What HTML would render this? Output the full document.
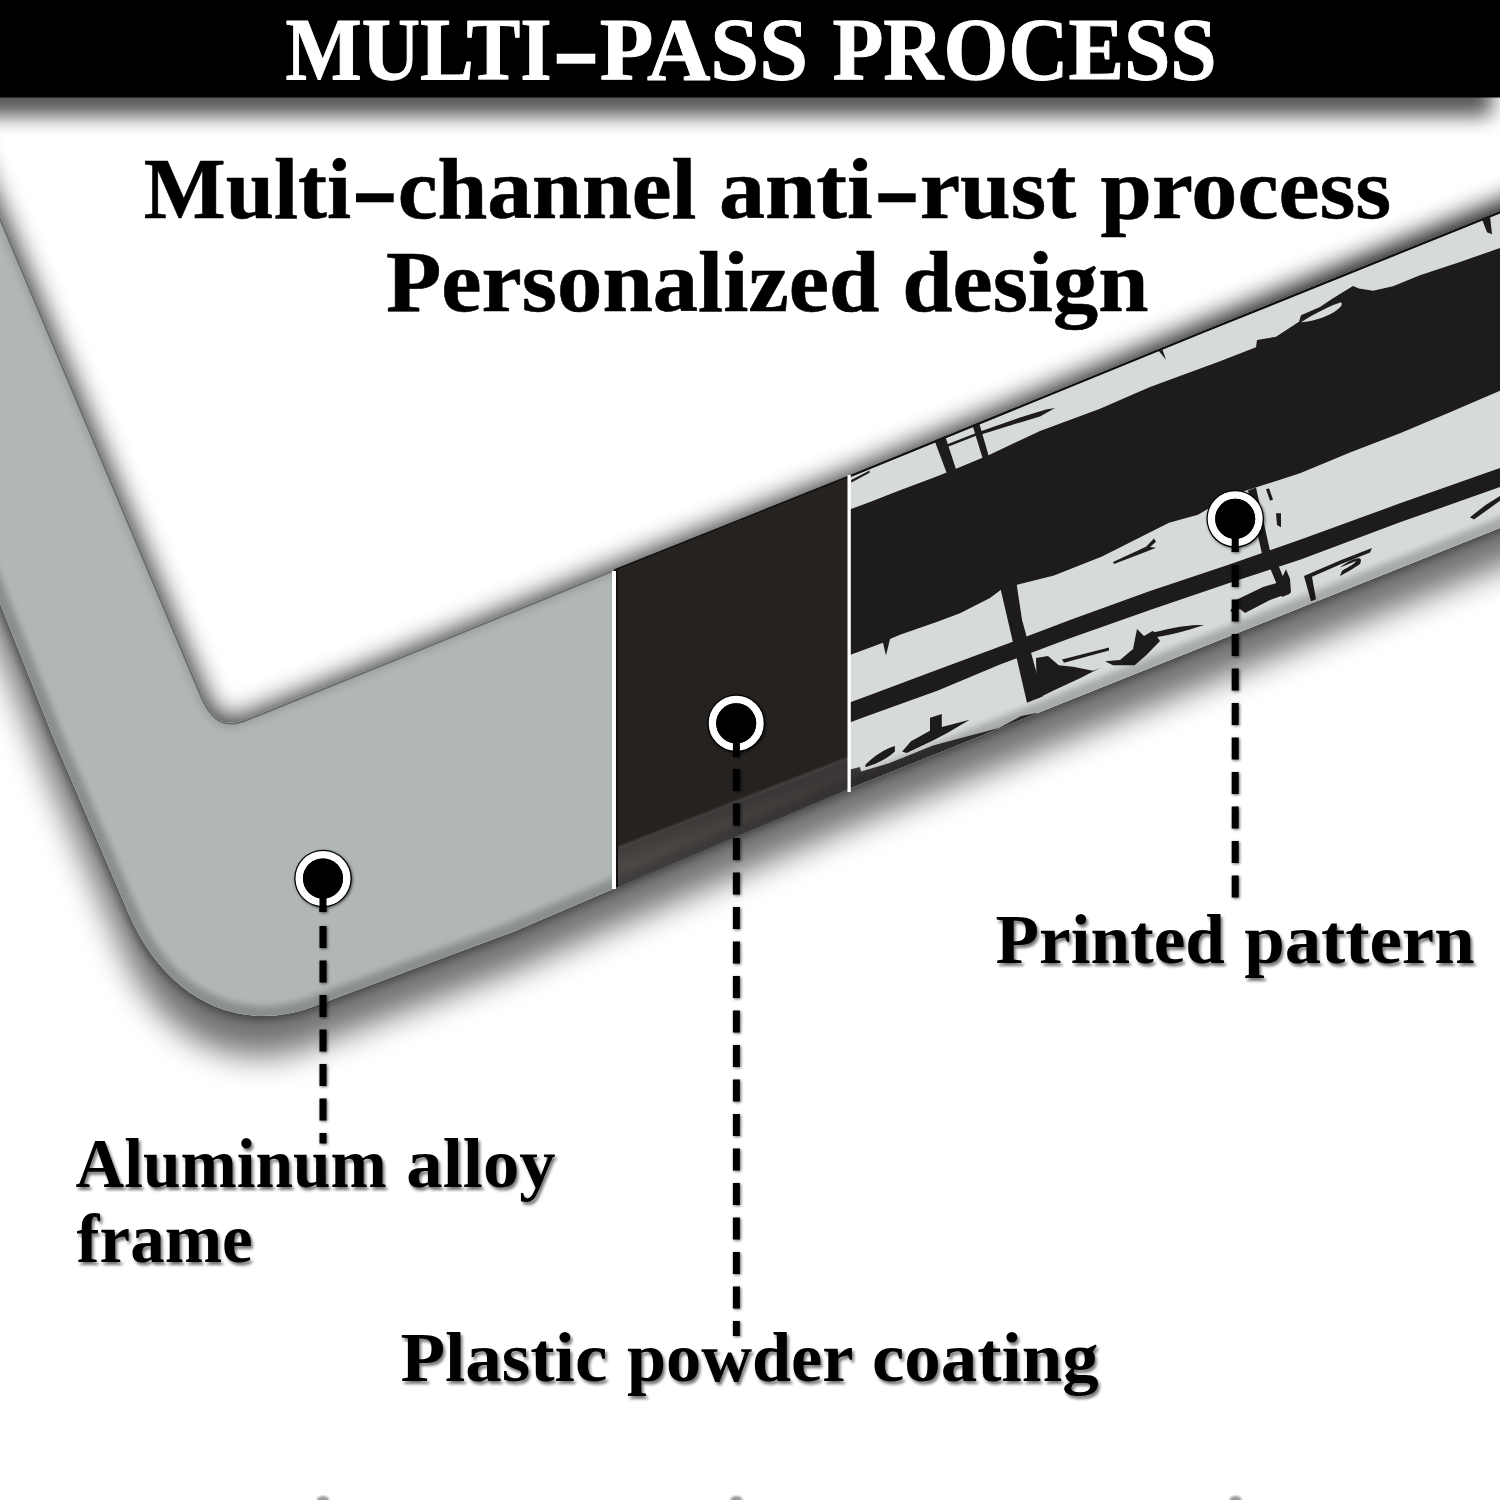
<!DOCTYPE html>
<html><head><meta charset="utf-8">
<style>
html,body{margin:0;padding:0;background:#fff;width:1500px;height:1500px;overflow:hidden}
svg{display:block}
text{font-family:"Liberation Serif",serif;font-weight:bold}
</style></head><body>
<svg width="1500" height="1500" viewBox="0 0 1500 1500">
<defs>
  <filter id="fshadowOut" x="-10%" y="-10%" width="120%" height="130%" color-interpolation-filters="sRGB">
    <feGaussianBlur in="SourceAlpha" stdDeviation="16" result="b1"/>
    <feOffset in="b1" dx="-4" dy="40" result="o1"/>
    <feComponentTransfer in="o1" result="s1"><feFuncA type="linear" slope="0.56"/></feComponentTransfer>
    <feGaussianBlur in="SourceAlpha" stdDeviation="5" result="b2"/>
    <feOffset in="b2" dx="-1" dy="3" result="o2"/>
    <feComponentTransfer in="o2" result="s2"><feFuncA type="linear" slope="0.45"/></feComponentTransfer>
    <feComposite in="s1" in2="s2" operator="arithmetic" k1="-1" k2="1" k3="1" k4="0"/>
  </filter>
  <filter id="fshadowIn" x="-10%" y="-10%" width="120%" height="130%" color-interpolation-filters="sRGB">
    <feMorphology in="SourceAlpha" operator="dilate" radius="3" result="d"/>
    <feGaussianBlur in="d" stdDeviation="13" result="b2"/>
    <feComponentTransfer in="b2"><feFuncA type="linear" slope="0.8"/></feComponentTransfer>
  </filter>
  <filter id="fshadowIn2" x="-10%" y="-10%" width="120%" height="130%" color-interpolation-filters="sRGB">
    <feMorphology in="SourceAlpha" operator="dilate" radius="4" result="d"/>
    <feGaussianBlur in="d" stdDeviation="14" result="b2"/>
    <feComponentTransfer in="b2"><feFuncA type="linear" slope="0.6"/></feComponentTransfer>
  </filter>
  <linearGradient id="rampX" gradientUnits="userSpaceOnUse" x1="850" y1="0" x2="1350" y2="0">
    <stop offset="0" stop-color="#000"/><stop offset="1" stop-color="#fff"/>
  </linearGradient>
  <mask id="maskRamp" maskUnits="userSpaceOnUse" x="-100" y="-100" width="1800" height="1800"><rect x="-100" y="-100" width="1800" height="1800" fill="url(#rampX)"/></mask>
  <clipPath id="clipOpen"><path d="M -60,73.5 L 200.8,693 C 212.8,721.5 224.4,728 247,718.8 L 400,657 L 610,571 L 850,475 L 1200,332 L 1500,211 L 1600,170 L 1600,-100 L -60,-100 Z"/></clipPath>
  <clipPath id="clipOut"><path d="M 1600,488 L 1500,528 L 1200,648 L 846,790 L 609,890.7 L 513,932 L 406.7,971.5 L 312,1007 C 236.9,1034.8 163.3,996.8 128,912 L 53,737 L 0,603 L -60,450 L -60,1600 L 1600,1600 Z"/></clipPath>
  <filter id="barshadow" x="-5%" y="-50%" width="110%" height="200%">
    <feGaussianBlur stdDeviation="10"/>
  </filter>
  <filter id="txtshadow" x="-5%" y="-30%" width="110%" height="160%" color-interpolation-filters="sRGB">
    <feGaussianBlur in="SourceAlpha" stdDeviation="1.6" result="b"/>
    <feOffset in="b" dx="2" dy="3" result="o"/>
    <feComponentTransfer in="o" result="s"><feFuncA type="linear" slope="0.55"/></feComponentTransfer>
    <feMerge><feMergeNode in="s"/><feMergeNode in="SourceGraphic"/></feMerge>
  </filter>
  <filter id="dotshadow" x="-50%" y="-50%" width="200%" height="200%" color-interpolation-filters="sRGB">
    <feGaussianBlur in="SourceAlpha" stdDeviation="1.5" result="b"/>
    <feOffset in="b" dx="0.5" dy="1" result="o"/>
    <feComponentTransfer in="o" result="s"><feFuncA type="linear" slope="0.6"/></feComponentTransfer>
    <feMerge><feMergeNode in="s"/><feMergeNode in="SourceGraphic"/></feMerge>
  </filter>
  <filter id="soft1"><feGaussianBlur stdDeviation="1.2"/></filter>
  <filter id="soft3"><feGaussianBlur stdDeviation="3"/></filter>
  <path id="frame" d="M -60,73.5 L 200.8,693 C 212.8,721.5 224.4,728 247,718.8 L 400,657 L 610,571 L 850,475 L 1200,332 L 1500,211 L 1600,170 L 1600,488 L 1500,528 L 1200,648 L 846,790 L 609,890.7 L 513,932 L 406.7,971.5 L 312,1007 C 236.9,1034.8 163.3,996.8 128,912 L 53,737 L 0,603 L -60,450 Z"/>
  <clipPath id="clipFrame"><use href="#frame"/></clipPath>
  <clipPath id="clipBlack"><rect x="614" y="0" width="236" height="1500"/></clipPath>
  <clipPath id="clipPrint"><rect x="849" y="0" width="700" height="1500"/></clipPath>
  <clipPath id="clipGreyOnly"><rect x="-100" y="0" width="712" height="1500"/></clipPath>
  <linearGradient id="bevelBlack" gradientUnits="userSpaceOnUse" x1="700" y1="815" x2="712" y2="855">
    <stop offset="0" stop-color="#3a3736"/><stop offset="1" stop-color="#54514f"/>
  </linearGradient>
</defs>

<!-- title bar shadow -->
<rect x="-60" y="30" width="1552" height="86" fill="#000" opacity="0.66" filter="url(#barshadow)"/>
<rect x="0" y="0" width="1500" height="97.5" fill="#000"/>

<!-- frame shadow -->
<g clip-path="url(#clipOut)"><use href="#frame" fill="#000" filter="url(#fshadowOut)"/></g>
<g clip-path="url(#clipOpen)"><use href="#frame" fill="#000" filter="url(#fshadowIn)"/></g>
<g clip-path="url(#clipOpen)" mask="url(#maskRamp)"><use href="#frame" fill="#000" filter="url(#fshadowIn2)"/></g>

<!-- frame body -->
<g clip-path="url(#clipFrame)">
  <rect x="-100" y="0" width="714" height="1500" fill="#b1b7b7"/>
  <g clip-path="url(#clipBlack)">
    <rect x="600" y="400" width="260" height="600" fill="#252220"/>
    <path d="M 600,854.8 L 860,753.4 L 860,1000 L 600,1000 Z" fill="url(#bevelBlack)"/>
    <path d="M 600,854.8 L 860,753.4" stroke="#4a4746" stroke-width="2" filter="url(#soft1)"/>
  </g>
  <g clip-path="url(#clipPrint)">
    <rect x="840" y="150" width="700" height="700" fill="#d7dadb"/>
    <g transform="matrix(1,-0.403,0,1,850,475)" fill="#1e1b1b">
      <!-- main black band -->
      <path d="M -10,34 L 20,35 L 50,35.5 L 86,36.5 L 106,36.5 L 138,36 L 190,32.5 L 250,34.5 L 300,33 L 370,35.4 L 406,35.9 L 407,29 L 426,33.4 L 449,27.8 L 451,22 L 470,21.5 L 483,18 L 503,13.8 L 509,18.7 L 523,26.6 L 543,30 L 570,30 L 610,32.8 L 650,35 L 710,35 L 710,178 L 650,177.7 L 600,179 L 550,180 L 500,179 L 450,179.7 L 380,174 L 348,180 L 319,176.4 L 313,177 L 252,183 L 204,182.8 L 166,177 L 153,175 L 140,179.4 L 110,182.5 L 88,182 L 50,180 L 40,180 L 36,195 L 33,181 L 0,180 L -10,180 Z"/>
      <!-- hole in band near top -->
      <path d="M 451,29 C 465,25.5 480,24 491,25 C 494,29 488,32.5 475,33 C 465,33 457,31 451,29 Z" fill="#d7dadb"/>
      <!-- thin stripe -->
      <path d="M -10,227 L 20,228 L 88,230 L 150,232 L 220,233.7 L 300,237 L 380,242.5 L 450,246 L 550,250 L 650,255 L 710,257 L 710,276 L 650,274 L 550,269 L 450,266 L 380,261 L 300,256 L 220,252 L 150,250 L 88,251 L 20,248 L -10,247 Z"/>
      <!-- bottom dark band at left -->
      <path fill="#3a3636" d="M -10,293 L 10,296 L 11,301 L 39,304 L 83,304 L 127,310 L 149,313 L 171,310 L 186,313 L 200,330 L -10,330 Z"/>
      <path d="M 15.5,295.9 C 25,290 35,288 44.9,289 L 44.9,294.6 C 38,298 28,300 15.5,298.5 Z"/>
      <path d="M 52.2,297.5 L 61,290.8 L 80,288 L 80,274.9 L 91.8,276 L 91.8,289 L 119.7,293 L 97.7,297 L 83,299 L 56.6,300.7 Z"/>
      <!-- crossing bar 1 with flare -->
      <path d="M 150,172 L 166,172 L 172,214 L 193,299 L 177,299 Z"/>
      <path d="M 186,258 L 198,260.8 L 208.7,274.4 L 223,281.6 L 243,293.6 L 250,293.75 L 230,296 L 203,297.5 L 187,299 Z"/>
      <path d="M 212,270 L 259,277 L 259,280 L 214,274 Z"/>
      <path d="M 255,289 L 270,293.8 L 283,288 L 287,269.7 L 294,279.5 L 303,277.8 L 310,291 L 296.7,299.3 L 284.7,305 L 263,296.3 Z"/>
      <!-- small fork blob in upper pale band -->
      <path d="M 263,193 L 296,191 L 304,186 L 306,190 L 300,193 L 306,196 L 296,196 L 264,195.5 Z"/>
      <!-- crescent line shape -->
      <path d="M 300,279 C 315,282 335,284 354,292.7 C 335,291 315,289 302,284 L 301,290 L 300,292 Z"/>
      <!-- crossing bar 2 (partly under marker) -->
      <path d="M 398,176 L 406,176 L 420,245 L 412,245 Z"/>
      <path d="M 416,182 L 419,182 L 423,195 L 420,195 Z"/>
      <path d="M 426,210 L 431,212 L 431,226 L 427,222 Z"/>
      <path d="M 420,262 L 428,262 L 440,296 L 432,296 Z"/>
      <!-- tank blob -->
      <path d="M 386,280.6 L 413,278.4 L 430,280.3 L 436,270 L 440,281 L 441,295.3 L 420,294.3 L 395,297.2 L 390,291.2 L 380,290 Z"/>
      <!-- right rc shape -->
      <path d="M 454,284 L 490,283 L 522,283.4 L 520,287 L 490,287 L 462,288 L 466,312 L 461,312 Z"/>
      <path d="M 490,290 C 500,286 515,286 510,294.5 C 505,296 495,298 490,298.5 L 492,294 C 500,293 505,292 506,290 Z"/>
      <!-- right squiggle -->
      <path d="M 620,292 L 636,286 L 650,283 L 652,287 L 640,291 L 624,296 Z"/>
      <!-- top strip bars -->
      <path d="M 84,-2 L 94.7,-2 L 106,37 L 96.7,37 Z"/>
      <path d="M 122,-2 L 128.7,-2 L 138.7,37 L 132.7,37 Z"/>
      <path d="M 96,8.5 L 130,8.8 L 130,11.6 L 96,11.3 Z"/>
      <path d="M 128,8.8 L 170,11 L 196,13.5 L 205,15.5 L 190,18 L 160,15 L 128,12 Z"/>
      <path d="M 1,5.5 L 19.6,3.4 L 19.6,5.6 L 1.5,8 Z"/>
      <path d="M 308,-1 L 312,-1 L 316,12 Z"/>
      <path d="M 632,-1 L 640,-1 L 642,18 L 637,14 Z"/>

    </g>
  </g>
  <g clip-path="url(#clipGreyOnly)"><path d="M -60,73.5 L 200.8,693 C 212.8,721.5 224.4,728 247,718.8 L 400,657 L 610,571 L 850,475 L 1200,332 L 1500,211 L 1600,170" fill="none" stroke="#8e9393" stroke-width="12" opacity="0.55" filter="url(#soft3)"/></g>
  <path d="M 1600,488 L 1500,528 L 1200,648 L 846,790 L 609,890.7 L 513,932 L 406.7,971.5 L 312,1007 C 236.9,1034.8 163.3,996.8 128,912 L 53,737 L 0,603 L -60,450" fill="none" stroke="#000" stroke-width="20" opacity="0.22" filter="url(#soft3)"/>
  <path d="M -60,73.5 L 200.8,693 C 212.8,721.5 224.4,728 247,718.8 L 400,657 L 610,571 L 850,475 L 1200,332 L 1500,211 L 1600,170" fill="none" stroke="#6a6e6e" stroke-width="4"/>
  <g clip-path="url(#clipPrint)"><path d="M -60,73.5 L 200.8,693 C 212.8,721.5 224.4,728 247,718.8 L 400,657 L 610,571 L 850,475 L 1200,332 L 1500,211 L 1600,170" fill="none" stroke="#111" stroke-width="4.5"/></g>
  <g clip-path="url(#clipBlack)"><path d="M -60,73.5 L 200.8,693 C 212.8,721.5 224.4,728 247,718.8 L 400,657 L 610,571 L 850,475 L 1200,332 L 1500,211 L 1600,170" fill="none" stroke="#111" stroke-width="4"/></g>
</g>

<!-- separators -->
<rect x="612" y="571" width="4" height="318" fill="#fff"/>
<rect x="616" y="569" width="2" height="318" fill="#111"/>
<rect x="847.5" y="475" width="3.3" height="317" fill="#fff"/>

<!-- title text -->
<text font-size="91.6" fill="#fff" stroke="#fff" stroke-width="1.0" stroke-linejoin="round" transform="translate(285.62,79.2) scale(0.8813,0.97)">MULTI</text>
<text font-size="91.6" fill="#fff" stroke="#fff" stroke-width="1.0" stroke-linejoin="round" transform="translate(599.74,79.2) scale(0.9592,0.97)">PASS</text>
<text font-size="91.6" fill="#fff" stroke="#fff" stroke-width="1.0" stroke-linejoin="round" transform="translate(832.39,79.2) scale(0.9096,0.97)">PROCESS</text>
<text font-size="91.6" fill="#000" stroke="#000" stroke-width="0.6" stroke-linejoin="round" transform="translate(143.75,217.9) scale(0.9475,0.95)">Multi</text>
<text font-size="91.6" fill="#000" stroke="#000" stroke-width="0.6" stroke-linejoin="round" transform="translate(397.77,217.9) scale(0.9778,0.95)">channel</text>
<text font-size="91.6" fill="#000" stroke="#000" stroke-width="0.6" stroke-linejoin="round" transform="translate(718.99,217.9) scale(1.0067,0.95)">anti</text>
<text font-size="91.6" fill="#000" stroke="#000" stroke-width="0.6" stroke-linejoin="round" transform="translate(919.71,217.9) scale(0.9936,0.95)">rust</text>
<text font-size="91.6" fill="#000" stroke="#000" stroke-width="0.6" stroke-linejoin="round" transform="translate(1100.50,217.9) scale(1.0087,0.95)">process</text>
<text font-size="90.5" fill="#000" stroke="#000" stroke-width="0.6" stroke-linejoin="round" transform="translate(386.00,311.3) scale(1.0014,0.95)">Personalized</text>
<text font-size="90.5" fill="#000" stroke="#000" stroke-width="0.6" stroke-linejoin="round" transform="translate(902.30,311.3) scale(0.9988,0.95)">design</text>
<rect x="556.7" y="53.7" width="38.6" height="10" fill="#fff"/>
<rect x="356" y="193.3" width="37.7" height="9" fill="#000"/>
<rect x="878.3" y="193.3" width="37.4" height="9" fill="#000"/>
<!-- markers & dashed lines -->
<g filter="url(#dotshadow)">
  <g stroke="#000" stroke-width="7" fill="none">
    <line x1="323" y1="878" x2="323" y2="912"/>
    <line x1="323" y1="926" x2="323" y2="1143.5" stroke-dasharray="22 12.5"/>
    <line x1="736.4" y1="723" x2="736.4" y2="757"/>
    <line x1="736.4" y1="769" x2="736.4" y2="1336" stroke-dasharray="22 12.5"/>
    <line x1="1235.2" y1="518.8" x2="1235.2" y2="552"/>
    <line x1="1235.2" y1="565" x2="1235.2" y2="898.5" stroke-dasharray="22 12.5"/>
  </g>
  <g>
    <circle cx="323" cy="878.5" r="28.8" fill="#000"/>
    <circle cx="323" cy="878.5" r="23.75" fill="none" stroke="#fff" stroke-width="7.5"/>
    <circle cx="323" cy="878.5" r="20" fill="#000"/>
    <rect x="319.5" y="890" width="7" height="22" fill="#000"/>
    <circle cx="736.2" cy="723.3" r="28.8" fill="#000"/>
    <circle cx="736.2" cy="723.3" r="23.75" fill="none" stroke="#fff" stroke-width="7.5"/>
    <circle cx="736.2" cy="723.3" r="20" fill="#000"/>
    <rect x="732.9" y="735" width="7" height="22" fill="#000"/>
    <circle cx="1235.2" cy="518.8" r="28.8" fill="#000"/>
    <circle cx="1235.2" cy="518.8" r="23.75" fill="none" stroke="#fff" stroke-width="7.5"/>
    <circle cx="1235.2" cy="518.8" r="20" fill="#000"/>
    <rect x="1231.7" y="530" width="7" height="22" fill="#000"/>
  </g>
</g>

<!-- bottom specks -->
<g fill="#9a9a9a" filter="url(#soft1)">
  <ellipse cx="323" cy="1500" rx="6" ry="4"/>
  <ellipse cx="736.5" cy="1500" rx="6" ry="4"/>
  <ellipse cx="1235.5" cy="1500" rx="6" ry="4"/>
</g>
<!-- labels -->
<g filter="url(#txtshadow)">
<text font-size="70" fill="#000" transform="translate(995.58,963) scale(1.0170,1.0)">Printed</text>
<text font-size="70" fill="#000" transform="translate(1244.16,963) scale(1.0400,1.0)">pattern</text>
<text font-size="70" fill="#000" transform="translate(75.60,1186.5) scale(0.9634,1.0)">Aluminum</text>
<text font-size="70" fill="#000" transform="translate(406.33,1186.5) scale(1.0373,1.0)">alloy</text>
<text font-size="70" fill="#000" transform="translate(76.60,1262) scale(0.9853,1.0)">frame</text>
<text font-size="70" fill="#000" transform="translate(400.46,1381) scale(1.0434,1.0)">Plastic</text>
<text font-size="70" fill="#000" transform="translate(627.00,1381) scale(1.0045,1.0)">powder</text>
<text font-size="70" fill="#000" transform="translate(871.92,1381) scale(1.0419,1.0)">coating</text>
</g>
</svg>
</body></html>
